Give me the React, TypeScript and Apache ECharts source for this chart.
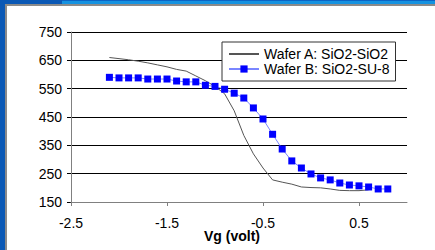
import React, { useEffect, useRef } from "react";
import * as echarts from "echarts";

const vgB = [-2.1, -2.0, -1.9, -1.8, -1.7, -1.6, -1.5, -1.4, -1.3, -1.2, -1.1, -1.0, -0.9, -0.8, -0.7, -0.6, -0.5, -0.4, -0.3, -0.2, -0.1, 0.0, 0.1, 0.2, 0.3, 0.4, 0.5, 0.6, 0.7, 0.8];
const waferB = [590, 588, 588, 588, 584, 584, 584, 577, 574, 574, 562, 558, 548, 534, 517, 482, 443, 389, 337, 295, 270, 249, 235, 228, 217, 210, 207, 203, 196, 196];

const vgA = [-2.1, -2.0, -1.9, -1.8, -1.7, -1.6, -1.5, -1.4, -1.3, -1.2, -1.1, -1.0, -0.9, -0.8, -0.7, -0.6, -0.5, -0.4, -0.3, -0.2, -0.1, 0.0, 0.1, 0.2, 0.3, 0.4, 0.5, 0.6];
const waferA = [660, 656, 652, 647, 641, 634, 627, 618, 612, 595, 578, 558, 532, 472, 385, 320, 270, 228, 220, 213, 203, 201, 200, 196, 191, 190, 190, 193];

const xTicks = [-2.5, -1.5, -0.5, 0.5];
const seriesNames = ["Wafer A: SiO2-SiO2", "Wafer B: SiO2-SU-8"];
const xTitle = "Vg (volt)";

const FONT = "'Liberation Sans', Arial, sans-serif";

export default function App() {
  const ref = useRef<HTMLDivElement>(null);
  useEffect(() => {
    if (!ref.current) return;
    const chart = echarts.init(ref.current, null, { renderer: "svg" });
    chart.setOption({
      animation: false,
      backgroundColor: "#ffffff",
      textStyle: { fontFamily: FONT },
      grid: { left: 71, right: 28, top: 32, bottom: 48, containLabel: false },
      legend: {
        left: 222,
        top: 42,
        orient: "vertical",
        backgroundColor: "#ffffff",
        borderColor: "#333333",
        borderWidth: 1,
        borderRadius: 0,
        padding: [5, 6, 5, 6],
        itemGap: 1,
        itemWidth: 30,
        itemHeight: 9,
        itemTextGap: 6,
        textStyle: { fontFamily: FONT, fontSize: 14, lineHeight: 14, color: "#000000" },
        data: [
          { name: seriesNames[0], itemStyle: { opacity: 0 } },
          { name: seriesNames[1] },
        ],
      },
      xAxis: {
        type: "value",
        min: -2.5,
        max: 1.0,
        z: 3,
        axisLine: { show: true, onZero: false, lineStyle: { color: "#808080", width: 1 } },
        axisTick: { show: true, length: 4, customValues: xTicks, lineStyle: { color: "#808080" } },
        axisLabel: {
          customValues: xTicks,
          margin: 14,
          fontSize: 14,
          color: "#000000",
          fontFamily: FONT,
          formatter: (v: number) => String(v),
        },
        splitLine: { show: false },
      },
      yAxis: {
        type: "value",
        min: 150,
        max: 750,
        interval: 100,
        axisLine: { show: true, onZero: false, lineStyle: { color: "#808080", width: 1 } },
        axisTick: { show: true, length: 4, lineStyle: { color: "#000000" } },
        axisLabel: { margin: 9, fontSize: 14, color: "#000000", fontFamily: FONT },
        splitLine: { show: true, showMinLine: false, lineStyle: { color: "#000000", width: 1 } },
      },
      series: [
        {
          name: seriesNames[0],
          type: "line",
          data: vgA.map((x, i) => [x, waferA[i]]),
          showSymbol: false,
          symbol: "none",
          lineStyle: { color: "#555555", width: 1 },
          itemStyle: { color: "#555555" },
        },
        {
          name: seriesNames[1],
          type: "line",
          data: vgB.map((x, i) => [x, waferB[i]]),
          symbol: "rect",
          symbolSize: 7,
          lineStyle: { color: "#7a86ff", width: 1 },
          itemStyle: { color: "#0000ff" },
        },
      ],
      graphic: [
        { type: "rect", shape: { x: 0, y: 0, width: 435, height: 4 }, style: { fill: "#1592e0" }, z: 10 },
        { type: "rect", shape: { x: 62, y: 0, width: 373, height: 1 }, style: { fill: "#0b63c4" }, z: 10 },
        { type: "rect", shape: { x: 0, y: 0, width: 62, height: 4 }, style: { fill: "#0a58b5" }, z: 10 },
        { type: "rect", shape: { x: 0, y: 0, width: 5, height: 250 }, style: { fill: "#0a58b5" }, z: 10 },
        { type: "rect", shape: { x: 5, y: 4, width: 430, height: 2 }, style: { fill: "#8a8a8a" }, z: 10 },
        { type: "rect", shape: { x: 5, y: 4, width: 2, height: 246 }, style: { fill: "#8a8a8a" }, z: 10 },
        {
          type: "text",
          x: 232,
          y: 236,
          style: {
            text: xTitle,
            font: `bold 14px ${FONT}`,
            fill: "#000000",
            align: "center",
            verticalAlign: "middle",
          },
          z: 10,
        },
      ],
    });
    return () => chart.dispose();
  }, []);
  return (
    <div
      ref={ref}
      style={{ position: "fixed", left: 0, top: 0, width: 435, height: 250 }}
    />
  );
}
